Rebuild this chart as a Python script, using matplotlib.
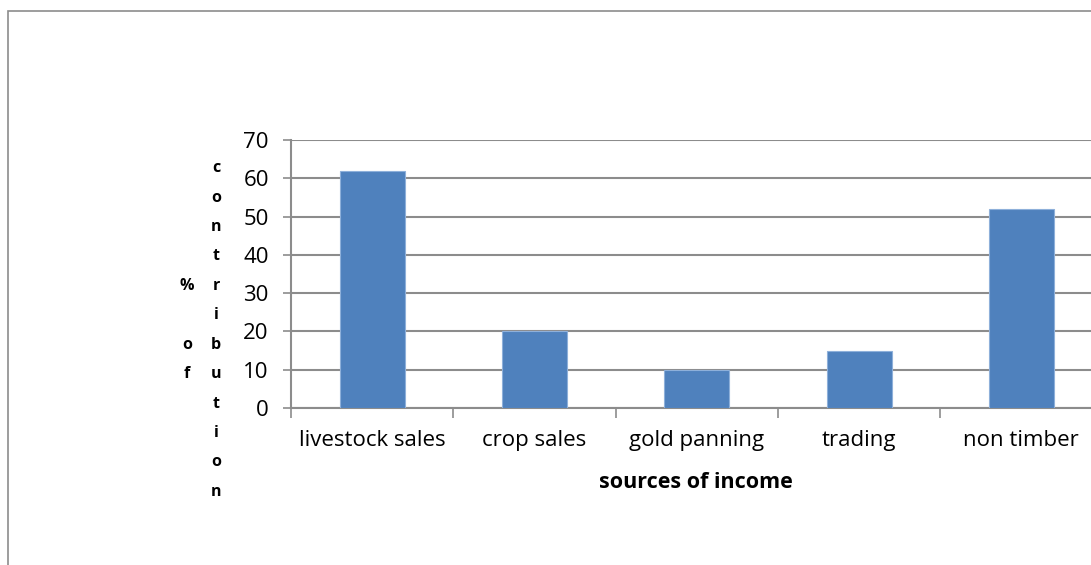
import matplotlib
matplotlib.use("Agg")
import matplotlib.pyplot as plt
from matplotlib.patches import Rectangle
import numpy as np

categories = ["livestock sales", "crop sales", "gold panning", "trading", "non timber"]
values = [62, 20, 10, 15, 52]
yticks = [0, 10, 20, 30, 40, 50, 60, 70]
xlabel = "sources of income"
ylabel_cols = ["% of", "contribution"]

plt.rcParams['font.family'] = ['Open Sans', 'DejaVu Sans']

W, H = 1091, 565
fig = plt.figure(figsize=(W / 100, H / 100), dpi=100)

# outer frame
fig.patches.append(Rectangle((8 / W, -0.1), 1.2, 1.1 - 11 / H, transform=fig.transFigure,
                             fill=False, edgecolor="#8c8c8c", linewidth=1.2, zorder=0))

left, right, bottom, top = 291, 1102.5, 408, 140
ax = fig.add_axes([left / W, 1 - bottom / H, (right - left) / W, (bottom - top) / H])

x = np.arange(len(categories))
ax.bar(x, values, width=0.4, color="#4f81bd", edgecolor="#8eb0da", linewidth=0.8, zorder=3)
ax.set_xlim(-0.5, len(categories) - 0.5)
ax.set_ylim(0, 70)
ax.set_yticks(yticks)
ax.set_yticklabels([str(v) for v in yticks], fontsize=16)
ax.yaxis.grid(True, color="#8c8c8c", linewidth=1.5, zorder=0)
ax.set_axisbelow(True)

ax.set_xticks(x)
ax.set_xticklabels(categories, fontsize=16)
ax.tick_params(axis="x", length=0, pad=16)
ax.set_xticks(np.arange(-0.5, len(categories) + 0.5, 1), minor=True)
ax.tick_params(axis="x", which="minor", length=7, width=1.2, color="#8c8c8c", direction="out")
ax.tick_params(axis="y", length=6, width=1.2, color="#8c8c8c", direction="out", pad=10)

for s in ["top", "right"]:
    ax.spines[s].set_visible(False)
for s in ["left", "bottom"]:
    ax.spines[s].set_color("#8c8c8c")
    ax.spines[s].set_linewidth(1.5)

fig.text(696 / W, 1 - 482 / H, xlabel, fontsize=15.5, fontweight="bold", ha="center", va="center")

# stacked y-label letters
step = 29.4
col_x = [187, 216]
for cx, word in zip(col_x, ylabel_cols):
    n = len(word)
    center = 330
    y0 = center - (n - 1) * step / 2
    for i, ch in enumerate(word):
        if ch.strip():
            fig.text(cx / W, 1 - (y0 + i * step) / H, ch, fontsize=11.5, fontweight="bold",
                     ha="center", va="center")

fig.savefig("out.png", dpi=100)
